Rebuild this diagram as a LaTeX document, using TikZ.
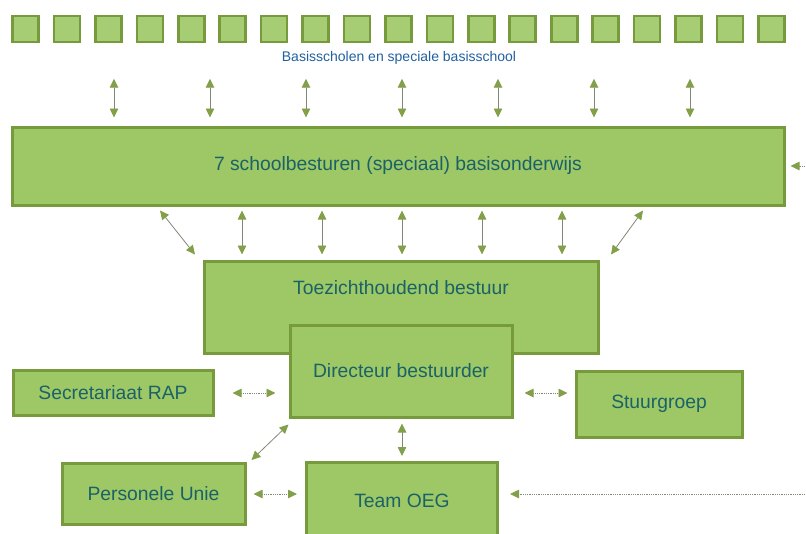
\documentclass[tikz,border=0pt]{standalone}
\usepackage{fontspec}
\setmainfont{Liberation Sans}
\usetikzlibrary{arrows.meta}
\definecolor{boxfill}{HTML}{9DC865}
\definecolor{boxline}{HTML}{769A3C}
\definecolor{tipgreen}{HTML}{82A04A}
\definecolor{shaft}{HTML}{7E8A74}
\definecolor{textteal}{HTML}{1B6268}
\definecolor{textblue}{HTML}{2160A0}
\begin{document}
\begin{tikzpicture}[x=1pt,y=-1pt,
		gtip/.tip={Triangle[length=9pt,width=8.5pt,color=tipgreen,fill=tipgreen]},
		box/.style={draw=boxline, fill=boxfill, line width=3pt, inner sep=0pt,
			text=textteal, font=\fontsize{19.3}{22}\selectfont},
		school/.style={draw=boxline, fill=boxfill!90!white, line width=2.6pt,
			minimum width=26pt, minimum height=26pt, inner sep=0pt},
		link/.style={draw=shaft, line width=0.8pt, gtip-gtip},
		dlink/.style={link, densely dotted}]
		\useasboundingbox (0,0) rectangle (806,533);
		\clip (0,0) rectangle (806,533);
		% row of schools
		\foreach \i in {0,...,18}
		{
			\node[school] (s\i) at (25.5+41.44*\i,29) {};
		}
		\node[text=textblue, font=\fontsize{14}{16}\selectfont, inner sep=0pt] (schools) at (399,58) {Basisscholen en speciale basisschool};
		% boards
		\node[box, minimum width=772pt, minimum height=78pt] (besturen) at (398,166) {7 schoolbesturen (speciaal) basisonderwijs};
		\node[box, minimum width=394pt, minimum height=92pt,
			label={[text=textteal, font=\fontsize{19.3}{22}\selectfont, anchor=center, yshift=-28pt]north:Toezichthoudend bestuur}] (toezicht) at (401,307) {};
		\node[box, minimum width=222pt, minimum height=92pt] (directeur) at (401,371) {Directeur bestuurder};
		\node[box, minimum width=200pt, minimum height=45pt] (secr) at (113,393) {Secretariaat RAP};
		\node[box, minimum width=166pt, minimum height=66pt] (stuur) at (659,404) {Stuurgroep};
		\node[box, minimum width=183pt, minimum height=61pt] (unie) at (153.5,494) {Personele Unie};
		\node[box, minimum width=191pt, minimum height=77pt] (team) at (402,501) {Team OEG};
		\coordinate (inA) at (812,166);
		\coordinate (inB) at (812,494);
		% schools <-> boards
		\foreach \x in {114,210,...,690}
		{
			\draw[link] ([yshift=-14pt]schools.south -| \x,0) -- ([yshift=8pt]besturen.north -| \x,0);
		}
		% boards <-> supervisory board
		\foreach \x in {242,322,...,562}
		{
			\draw[link] ([yshift=-4pt]besturen.south -| \x,0) -- ([yshift=5pt]toezicht.north -| \x,0);
		}
		\draw[link] ([yshift=-4pt]besturen.south -| 160,0) -- ([yshift=5pt]toezicht.north -| 195,0);
		\draw[link] ([yshift=-4pt]besturen.south -| 643,0) -- ([yshift=5pt]toezicht.north -| 611,0);
		% around the director
		\draw[dlink] ([xshift=18pt]secr.east) -- ([xshift=-13pt]directeur.west |- secr.east);
		\draw[dlink] ([xshift=11pt]directeur.east |- secr.east) -- ([xshift=-7pt]stuur.west |- secr.east);
		\draw[link] ([yshift=-5pt]directeur.south -| team.north) -- ([yshift=5pt]team.north);
		\draw[link] ([yshift=-6pt]directeur.south west) -- ([xshift=5pt,yshift=2pt]unie.north east);
		\draw[dlink] ([xshift=7pt]unie.east) -- ([xshift=-8pt]team.west |- unie.east);
		% incoming from the right
		\draw[dlink, -gtip] (inA) -- ([xshift=5pt]besturen.east);
		\draw[dlink, -gtip] (inB) -- ([xshift=11pt]team.east |- inB);
	\end{tikzpicture}
\end{document}
